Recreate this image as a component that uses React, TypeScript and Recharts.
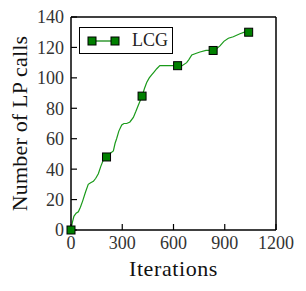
import React from 'react';
import { ComposedChart, Line, XAxis, YAxis, Legend } from 'recharts';

const iterations = [0, 8, 17, 30, 43, 55, 68, 85, 101, 115, 131, 145, 160, 175, 189, 208, 225, 248, 258, 267, 280, 297, 310, 326, 345, 365, 380, 394, 416, 430, 443, 458, 472, 487, 502, 520, 560, 600, 624, 650, 677, 690, 707, 730, 755, 790, 832, 850, 872, 895, 921, 950, 989, 1015, 1040];
const lpCalls = [0, 5, 9, 11, 12, 15, 19, 25, 30, 31, 32, 34, 37, 42, 46, 48, 50, 52, 57, 60, 65, 69, 70, 70, 71, 74, 78, 82, 88, 93, 97, 100, 102, 104, 106, 108, 108, 108, 108, 108, 110, 112, 115, 116, 117, 118, 118, 119, 121, 124, 126, 127, 129, 130, 130];
const markerIterations = [0, 208, 416, 624, 832, 1040];
const markerCalls = [0, 48, 88, 108, 118, 130];
const xTicks = [0, 300, 600, 900, 1200];
const yTicks = [0, 20, 40, 60, 80, 100, 120, 140];
const seriesName = 'LCG';

const lineData = iterations.map((x, i) => ({ x, y: lpCalls[i] }));
const markerData = markerIterations.map((x, i) => ({ x, y: markerCalls[i] }));

const FONT = 'Liberation Serif, DejaVu Serif, serif';
const LINE_GREEN = '#1a9a1a';
const MARK_GREEN = '#008000';

const Square = (props: any) => {
  const { cx, cy } = props;
  if (cx == null || cy == null) return null;
  return <rect x={cx - 4} y={cy - 4} width={8} height={8} fill={MARK_GREEN} stroke="#000" strokeWidth={1} />;
};

const LegendBox = () => (
  <div
    style={{
      width: 94,
      height: 27,
      boxSizing: 'border-box',
      border: '1.2px solid #000',
      background: '#fff',
      display: 'flex',
      alignItems: 'center',
      fontFamily: FONT,
      fontSize: 18,
      color: '#222',
    }}
  >
    <svg width={44} height={14} style={{ marginLeft: 6 }}>
      <line x1={6} y1={7} x2={29} y2={7} stroke={MARK_GREEN} strokeWidth={1.2} />
      <rect x={2} y={3} width={8} height={8} fill={MARK_GREEN} stroke="#000" strokeWidth={1} />
      <rect x={25} y={3} width={8} height={8} fill={MARK_GREEN} stroke="#000" strokeWidth={1} />
    </svg>
    <span style={{ marginLeft: 2 }}>{seriesName}</span>
  </div>
);

const YLabel = (props: any) => {
  const vb = props.viewBox || {};
  const x = vb.x + vb.width - 52;
  const y = vb.y + vb.height / 2;
  return (
    <text x={x} y={y} transform={`rotate(-90 ${x} ${y})`} textAnchor="middle" dominantBaseline="central" style={{ fontFamily: FONT }} fontSize={22} fill="#111" letterSpacing={0.2}>
      Number of LP calls
    </text>
  );
};

const XLabel = (props: any) => {
  const vb = props.viewBox || {};
  const x = vb.x + vb.width / 2;
  const y = vb.y + 46;
  return (
    <text x={x} y={y} textAnchor="middle" style={{ fontFamily: FONT }} fontSize={22} fill="#111" letterSpacing={0.6}>
      Iterations
    </text>
  );
};

const tickStyle = { fontFamily: FONT, fontSize: 18, fill: '#333' };
const axisLine = { stroke: '#000', strokeWidth: 1.5 };
const tickLine = { stroke: '#000', strokeWidth: 1.2 };
const empty = () => '';

export default function App() {
  return (
    <div style={{ position: 'absolute', left: 0, top: 0, background: '#fff', fontFamily: FONT }}>
      <ComposedChart width={306} height={291} margin={{ top: 16, right: 29, bottom: 60, left: 70 }} style={{ fontFamily: FONT }}>
        <XAxis
          xAxisId="b"
          dataKey="x"
          type="number"
          domain={[0, 1200]}
          ticks={xTicks}
          height={1}
          tickSize={-6}
          tickMargin={12}
          tick={tickStyle}
          axisLine={axisLine}
          tickLine={tickLine}
          interval={0}
          label={<XLabel />}
        />
        <XAxis
          xAxisId="t"
          orientation="top"
          dataKey="x"
          type="number"
          domain={[0, 1200]}
          ticks={xTicks}
          height={1}
          tickSize={-6}
          tickFormatter={empty}
          axisLine={axisLine}
          tickLine={tickLine}
          interval={0}
        />
        <YAxis
          yAxisId="l"
          type="number"
          domain={[0, 140]}
          ticks={yTicks}
          width={1}
          tickSize={-6}
          tickMargin={13}
          tick={tickStyle}
          axisLine={axisLine}
          tickLine={tickLine}
          interval={0}
          label={<YLabel />}
        />
        <YAxis
          yAxisId="r"
          orientation="right"
          type="number"
          domain={[0, 140]}
          ticks={yTicks}
          width={1}
          tickSize={-6}
          tickFormatter={empty}
          axisLine={axisLine}
          tickLine={tickLine}
          interval={0}
        />
        <Line
          xAxisId="b"
          yAxisId="l"
          data={lineData}
          dataKey="y"
          type="linear"
          stroke={LINE_GREEN}
          strokeWidth={1.2}
          dot={false}
          activeDot={false}
          isAnimationActive={false}
          name={seriesName}
        />
        <Line
          xAxisId="b"
          yAxisId="l"
          data={markerData}
          dataKey="y"
          stroke="none"
          dot={<Square />}
          activeDot={false}
          isAnimationActive={false}
          legendType="none"
        />
        <Legend
          layout="vertical"
          align="center"
          verticalAlign="middle"
          wrapperStyle={{ left: 79, top: 27, width: 94, height: 27 }}
          content={<LegendBox />}
        />
      </ComposedChart>
    </div>
  );
}
